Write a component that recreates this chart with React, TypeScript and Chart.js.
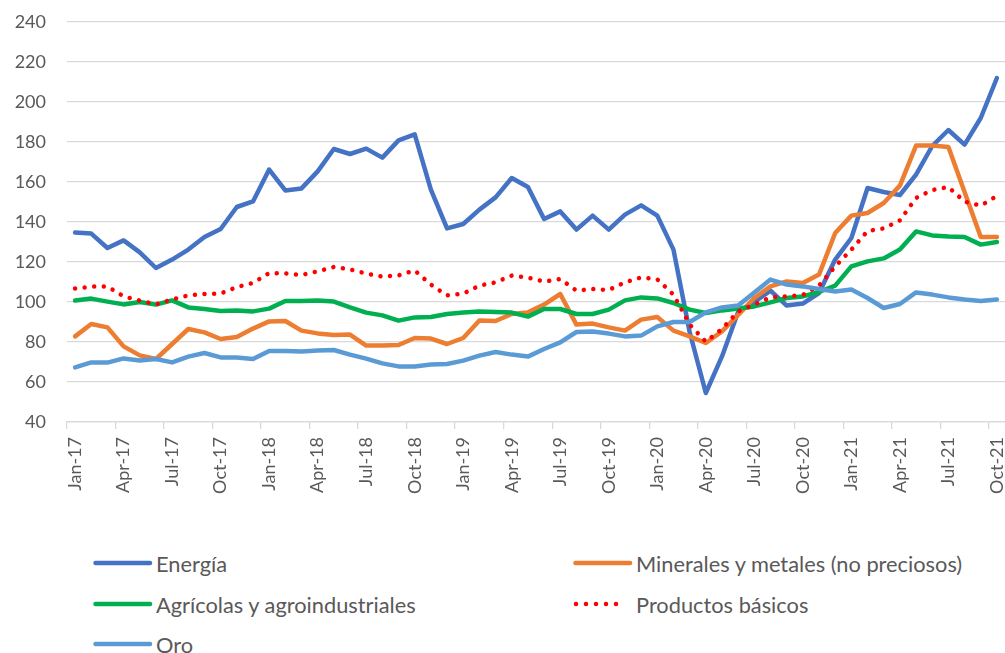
import React, { useEffect, useRef } from "react";
import { Chart, registerables } from "chart.js";

Chart.register(...registerables);

const months = [
  "Jan-17", "Feb-17", "Mar-17", "Apr-17", "May-17", "Jun-17", "Jul-17", "Aug-17", "Sep-17", "Oct-17", "Nov-17", "Dec-17",
  "Jan-18", "Feb-18", "Mar-18", "Apr-18", "May-18", "Jun-18", "Jul-18", "Aug-18", "Sep-18", "Oct-18", "Nov-18", "Dec-18",
  "Jan-19", "Feb-19", "Mar-19", "Apr-19", "May-19", "Jun-19", "Jul-19", "Aug-19", "Sep-19", "Oct-19", "Nov-19", "Dec-19",
  "Jan-20", "Feb-20", "Mar-20", "Apr-20", "May-20", "Jun-20", "Jul-20", "Aug-20", "Sep-20", "Oct-20", "Nov-20", "Dec-20",
  "Jan-21", "Feb-21", "Mar-21", "Apr-21", "May-21", "Jun-21", "Jul-21", "Aug-21", "Sep-21", "Oct-21",
];

const energia = [
  134.7, 134.2, 127, 130.8, 124.8, 117, 121.2, 126.2, 132.5, 136.5, 147.5, 150.3,
  166.2, 155.8, 156.8, 165.3, 176.5, 174, 176.7, 172.2, 180.8, 183.8, 156.2, 136.8,
  139, 146.2, 152.3, 162, 157.5, 141.5, 145.3, 136.2, 143.2, 136.2, 143.7, 148.3,
  143.2, 126.2, 85, 54.5, 72.8, 95, 100, 105.7, 98.2, 99.2, 104.5, 121.2,
  132, 157, 155, 153.5, 163.7, 178, 186, 178.7, 192, 212,
];

const minerales = [
  82.8, 89, 87.3, 77.8, 73.3, 71.5, 79, 86.5, 84.8, 81.5, 82.5, 86.7,
  90.3, 90.5, 85.7, 84.3, 83.5, 83.7, 78.2, 78.2, 78.5, 82, 81.7, 79,
  82, 90.8, 90.5, 94, 94.8, 98.7, 104, 88.7, 89.2, 87.3, 85.7, 91.2,
  92.5, 85.7, 82.8, 79.5, 85.3, 93.5, 102, 107.8, 110.3, 109.5, 113.7, 134.5,
  143.2, 144.5, 149.5, 158.2, 178.2, 178.2, 177.5, 155, 132.5, 132.5,
];

const agricolas = [
  100.7, 101.7, 100.2, 98.8, 100, 98.7, 100.8, 97.3, 96.5, 95.5, 95.8, 95.3,
  96.7, 100.5, 100.5, 100.7, 100.2, 97.3, 94.7, 93.3, 90.7, 92.3, 92.5, 94,
  94.8, 95.3, 95, 94.7, 92.7, 96.5, 96.5, 94, 94, 96.2, 100.8, 102.3,
  101.8, 99.5, 96.2, 94.5, 95.8, 96.8, 97.8, 99.8, 102, 102.8, 105, 108.2,
  117.8, 120.3, 121.8, 126.2, 135.3, 133.3, 132.8, 132.5, 128.7, 130,
];

const productos = [
  106.7, 107.7, 107.7, 102.8, 100.7, 98.8, 101.3, 103.3, 104, 104.2, 107.5, 109.5,
  114.5, 114.3, 113.5, 115.3, 117.5, 116.3, 114.2, 112.7, 113.3, 115.8, 108.7, 103.3,
  104.2, 108.2, 109.8, 113.2, 112.2, 110.2, 111.5, 105.7, 106.5, 106, 109.8, 112.3,
  111.3, 103.7, 88.7, 80.2, 86.5, 95.3, 98.7, 102.3, 102.8, 103.5, 108.2, 117.8,
  126.2, 135.5, 136.8, 140.8, 152, 156, 157.5, 150.2, 148.2, 153,
];

const oro = [
  67.3, 69.8, 69.7, 71.8, 70.7, 71.5, 69.8, 72.7, 74.5, 72.3, 72.3, 71.5,
  75.5, 75.5, 75.2, 75.7, 76, 73.7, 71.7, 69.3, 67.8, 67.8, 68.7, 69,
  70.7, 73.2, 75, 73.7, 72.7, 76.5, 79.8, 85, 85.3, 84.2, 82.8, 83.2,
  87.8, 90, 90, 94.8, 97.3, 98.3, 104.8, 111.2, 108.7, 107.8, 106.5, 105.3,
  106.2, 102, 97, 99, 104.8, 103.7, 102.3, 101.2, 100.5, 101.3,
];

const Y_MIN = 40;
const Y_MAX = 240;
const Y_STEP = 20;

const seriesNames = [
  "Energía",
  "Minerales y metales (no preciosos)",
  "Agrícolas y agroindustriales",
  "Productos básicos",
  "Oro",
];
const seriesColors = ["#4472C4", "#ED7D31", "#00B050", "#FF0000", "#5B9BD5"];

const TEXT = "#595959";
const GRID = "#d9d9d9";
const FONT = "Lato";

function LegendItem(props: { name: string; color: string; dotted: boolean; x: number; y: number }) {
  const { name, color, dotted, x, y } = props;
  return (
    <div
      style={{
        position: "absolute",
        left: x,
        top: y - 16,
        height: 32,
        display: "flex",
        alignItems: "center",
        whiteSpace: "nowrap",
      }}
    >
      <svg width={60} height={10} style={{ display: "block" }}>
        {dotted ? (
          <line x1={3} y1={5} x2={53} y2={5} stroke={color} strokeWidth={4.5} strokeLinecap="round" strokeDasharray="0 10" />
        ) : (
          <line x1={2.5} y1={5} x2={57} y2={5} stroke={color} strokeWidth={4.5} strokeLinecap="round" />
        )}
      </svg>
      <span style={{ marginLeft: 3, fontFamily: FONT, fontSize: 21.8, color: TEXT }}>{name}</span>
    </div>
  );
}

export default function App() {
  const ref = useRef<HTMLCanvasElement>(null);

  useEffect(() => {
    document.body.style.margin = "0";
    const canvas = ref.current;
    if (!canvas) return;
    const values = [energia, minerales, agricolas, productos, oro];
    const chart = new Chart(canvas, {
      type: "line",
      data: {
        labels: months,
        datasets: values.map((d, i) => ({
          label: seriesNames[i],
          data: d,
          borderColor: seriesColors[i],
          backgroundColor: seriesColors[i],
          borderWidth: 4.5,
          pointRadius: 0,
          pointHoverRadius: 0,
          tension: 0,
          fill: false,
          borderJoinStyle: "round" as const,
          borderCapStyle: "round" as const,
          borderDash: i === 3 ? [0.01, 9.6] : [],
          order: 4 - i,
        })),
      },
      options: {
        responsive: false,
        animation: false,
        devicePixelRatio: 1,
        layout: { padding: { top: 22, right: 0, bottom: 0, left: 0 } },
        plugins: { legend: { display: false }, tooltip: { enabled: false } },
        scales: {
          x: {
            offset: true,
            grid: {
              offset: true,
              drawOnChartArea: false,
              drawTicks: true,
              tickLength: 7,
              lineWidth: 1.3,
              color: (c: any) => (typeof c.index === "number" && c.index % 3 === 0 ? GRID : "rgba(0,0,0,0)"),
            },
            border: { display: true, color: GRID, width: 1.3 },
            ticks: {
              autoSkip: false,
              minRotation: 90,
              maxRotation: 90,
              padding: 8,
              color: TEXT,
              font: { family: FONT, size: 18 },
              callback: (_v: any, i: number) => (i % 3 === 0 ? months[i] : ""),
            },
            afterFit: (s: any) => {
              s.height = 78;
              s.paddingLeft = 0;
              s.paddingRight = 0;
            },
          },
          y: {
            min: Y_MIN,
            max: Y_MAX,
            ticks: {
              stepSize: Y_STEP,
              padding: 21,
              color: TEXT,
              font: { family: FONT, size: 18 },
            },
            grid: { color: GRID, lineWidth: 1.3, drawTicks: false },
            border: { display: false },
            afterFit: (s: any) => {
              s.width = 67;
              s.paddingTop = 0;
              s.paddingBottom = 0;
            },
          },
        },
      },
    });
    return () => chart.destroy();
  }, []);

  return (
    <div style={{ position: "relative", width: 1005, height: 653, overflow: "hidden", background: "#fff" }}>
      <canvas ref={ref} width={1005} height={500} style={{ position: "absolute", left: 0, top: 0 }} />
      <LegendItem name={seriesNames[0]} color={seriesColors[0]} dotted={false} x={93} y={563} />
      <LegendItem name={seriesNames[1]} color={seriesColors[1]} dotted={false} x={573} y={563} />
      <LegendItem name={seriesNames[2]} color={seriesColors[2]} dotted={false} x={93} y={604} />
      <LegendItem name={seriesNames[3]} color={seriesColors[3]} dotted={true} x={573} y={604} />
      <LegendItem name={seriesNames[4]} color={seriesColors[4]} dotted={false} x={93} y={644} />
    </div>
  );
}
